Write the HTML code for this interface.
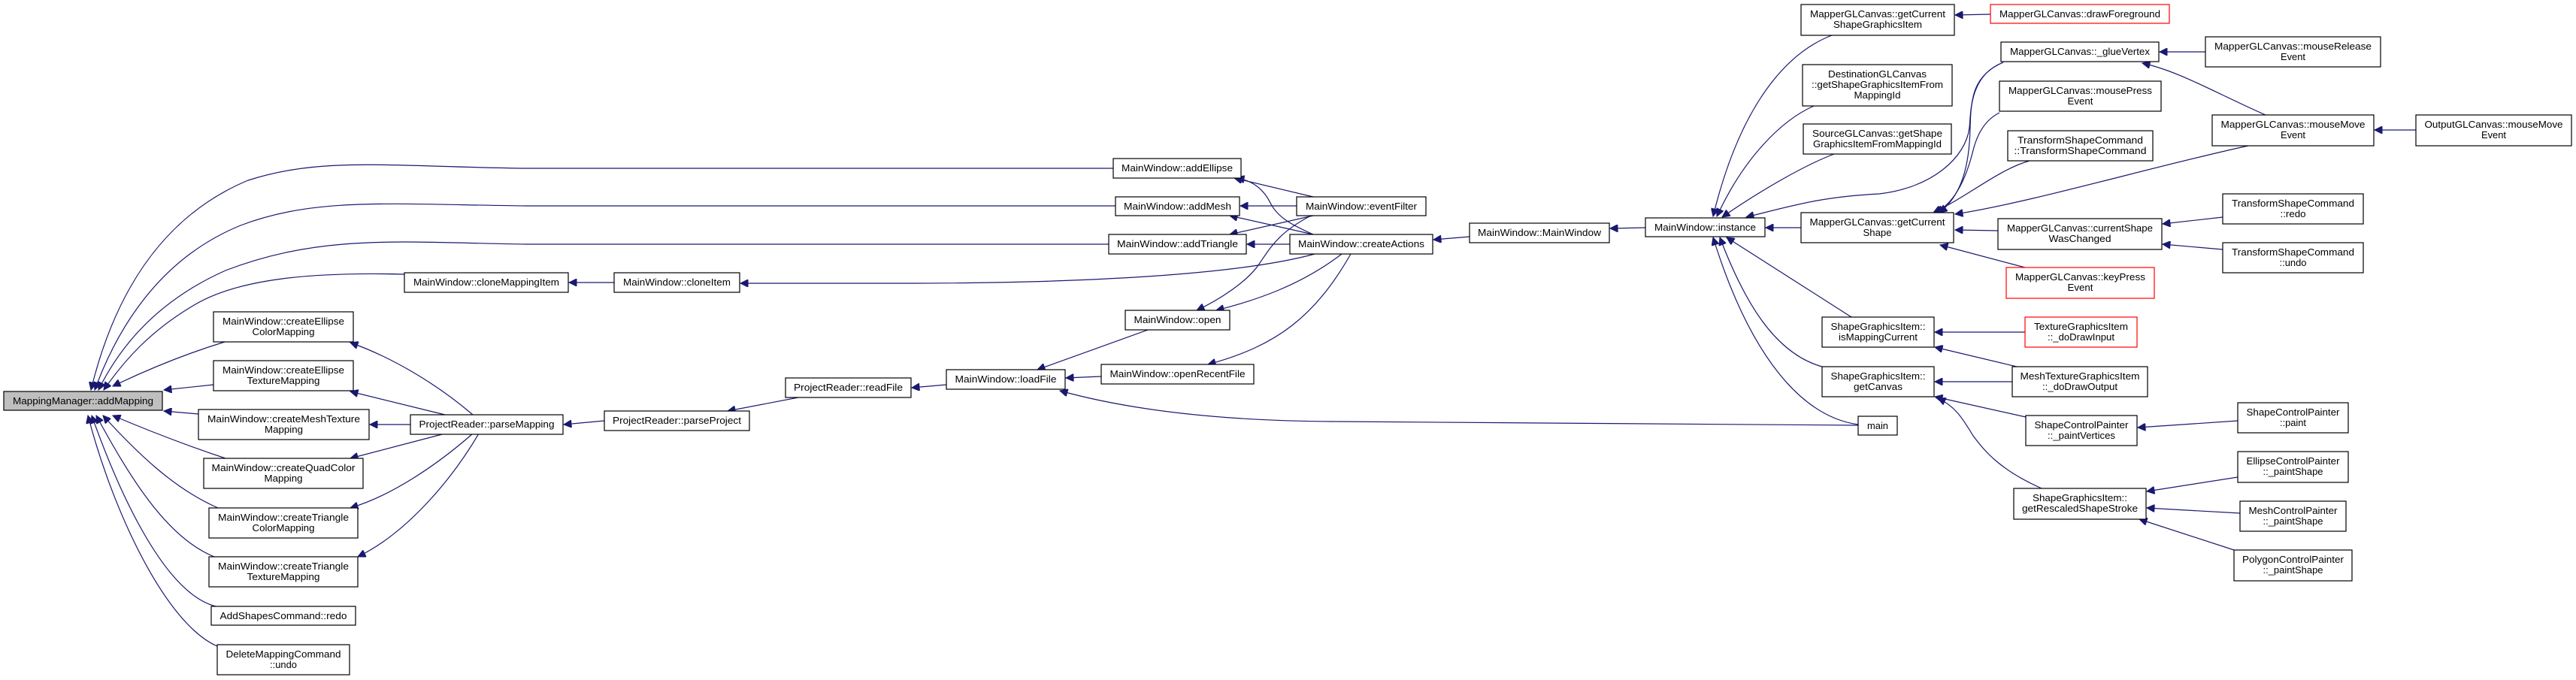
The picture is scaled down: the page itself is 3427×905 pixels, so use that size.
<!DOCTYPE html>
<html><head><meta charset="utf-8"><style>
html,body{margin:0;padding:0;background:#fff;}
svg{display:block;}
text{font-family:"Liberation Sans",sans-serif;font-size:13px;fill:#000;}
.e{fill:none;stroke:#191970;stroke-width:1.2;marker-end:url(#a);}
.n{fill:#fff;stroke:#000;stroke-width:1.2;}
.r{fill:#fff;stroke:#ff0000;stroke-width:1.2;}
</style></head><body>
<svg width="3427" height="905" viewBox="0 0 3427 905" xmlns="http://www.w3.org/2000/svg">
<defs><marker id="a" viewBox="0 0 10 10" refX="10" refY="5" markerWidth="13" markerHeight="10" markerUnits="userSpaceOnUse" orient="auto"><path d="M0,0 L10,5 L0,10 z" fill="#191970" stroke="#191970"/></marker></defs>
<g>
<path class="e" d="M1481,224 L700,224 C520,222 430,208 330,240 C210,290 150,400 121,519"/>
<path class="e" d="M1484,274 L700,274 C520,272 420,262 320,300 C210,345 155,440 126,519"/>
<path class="e" d="M1475,325 L700,325 C540,323 430,310 300,360 C210,400 160,460 131,519"/>
<path class="e" d="M538,365 C420,362 320,370 260,405 C200,440 165,480 138,519"/>
<path class="e" d="M299,455 C250,470 200,490 150,514"/>
<path class="e" d="M284,512 L218,519"/>
<path class="e" d="M264,551 L218,547"/>
<path class="e" d="M300,610 C240,590 190,570 150,553"/>
<path class="e" d="M290,676 C230,650 180,600 137,553"/>
<path class="e" d="M285,741 C220,715 170,630 128,553"/>
<path class="e" d="M287,807 C220,790 160,660 122,553"/>
<path class="e" d="M289,860 C220,830 150,680 117,553"/>
<path class="e" d="M817,376 L757,376"/>
<path class="e" d="M1749,338 C1650,365 1450,377 1200,377 L985,377"/>
<path class="e" d="M629,552 C580,510 520,475 466,456"/>
<path class="e" d="M592,552 L466,521"/>
<path class="e" d="M546,565 L492,565"/>
<path class="e" d="M592,577 L466,610"/>
<path class="e" d="M629,577 C580,620 520,660 466,676"/>
<path class="e" d="M637,577 C600,640 540,710 476,741"/>
<path class="e" d="M804,560 L750,565"/>
<path class="e" d="M1062,529 L968,547"/>
<path class="e" d="M1259,512 L1213,516"/>
<path class="e" d="M1527,439 L1380,492"/>
<path class="e" d="M1465,501 L1418,503"/>
<path class="e" d="M2472,566 L1773,561 C1620,560 1500,545 1410,520"/>
<path class="e" d="M1747,262 L1642,237"/>
<path class="e" d="M1747,312 C1720,300 1700,290 1690,270 C1680,250 1665,240 1645,237"/>
<path class="e" d="M1725,274 L1650,274"/>
<path class="e" d="M1747,312 L1636,287"/>
<path class="e" d="M1747,287 L1636,312"/>
<path class="e" d="M1716,325 L1659,325"/>
<path class="e" d="M1744,287 C1700,310 1690,330 1676,350 C1660,375 1620,400 1592,413"/>
<path class="e" d="M1785,338 C1730,380 1670,400 1618,413"/>
<path class="e" d="M1797,338 C1750,420 1700,460 1607,485"/>
<path class="e" d="M1955,315 L1907,319"/>
<path class="e" d="M2189,303 L2142,304"/>
<path class="e" d="M2437,47 C2390,65 2320,120 2279,288"/>
<path class="e" d="M2413,141 C2370,160 2320,210 2284,288"/>
<path class="e" d="M2440,205 C2400,220 2340,255 2291,289"/>
<path class="e" d="M2665,83 C2620,100 2622,150 2620,170 C2615,210 2570,250 2500,258 C2420,262 2380,275 2323,289"/>
<path class="e" d="M2396,303 L2349,303"/>
<path class="e" d="M2463,422 L2297,316"/>
<path class="e" d="M2424,488 C2360,470 2320,400 2288,316"/>
<path class="e" d="M2472,565 C2400,555 2330,480 2279,316"/>
<path class="e" d="M2648,19 L2601,20"/>
<path class="e" d="M2665,83 C2625,100 2622,130 2621,170 C2620,220 2610,260 2580,283"/>
<path class="e" d="M2660,150 C2640,160 2630,180 2625,200 C2615,240 2600,270 2575,283"/>
<path class="e" d="M2700,214 C2660,225 2620,260 2572,283"/>
<path class="e" d="M2991,194 C2870,220 2700,270 2601,285"/>
<path class="e" d="M2658,307 L2601,306"/>
<path class="e" d="M2694,356 L2581,326"/>
<path class="e" d="M2934,69 L2873,69"/>
<path class="e" d="M3014,153 C2950,125 2900,95 2850,84"/>
<path class="e" d="M3214,173 L3159,173"/>
<path class="e" d="M2957,289 L2877,298"/>
<path class="e" d="M2957,332 L2877,325"/>
<path class="e" d="M2694,442 L2574,442"/>
<path class="e" d="M2683,488 L2574,462"/>
<path class="e" d="M2677,508 L2574,508"/>
<path class="e" d="M2695,555 L2574,528"/>
<path class="e" d="M2716,650 C2660,625 2640,600 2625,580 C2610,555 2600,540 2578,530"/>
<path class="e" d="M2977,560 L2844,569"/>
<path class="e" d="M2977,635 L2856,654"/>
<path class="e" d="M2980,683 L2856,676"/>
<path class="e" d="M2972,732 L2846,691"/>
</g>
<g text-anchor="middle">
<rect x="5" y="521" width="211" height="25" fill="#bfbfbf" stroke="#000" stroke-width="1.2"/><text x="110.5" y="538" textLength="187" lengthAdjust="spacingAndGlyphs">MappingManager::addMapping</text>

<rect class="n" x="284" y="415" width="186" height="40"/><text x="377" y="432" textLength="162" lengthAdjust="spacingAndGlyphs">MainWindow::createEllipse</text><text x="377" y="446" textLength="83" lengthAdjust="spacingAndGlyphs">ColorMapping</text>
<rect class="n" x="284" y="480" width="186" height="40"/><text x="377" y="497" textLength="162" lengthAdjust="spacingAndGlyphs">MainWindow::createEllipse</text><text x="377" y="511" textLength="97" lengthAdjust="spacingAndGlyphs">TextureMapping</text>
<rect class="n" x="264" y="545" width="227" height="40"/><text x="377.5" y="562" textLength="203" lengthAdjust="spacingAndGlyphs">MainWindow::createMeshTexture</text><text x="377.5" y="576" textLength="51" lengthAdjust="spacingAndGlyphs">Mapping</text>
<rect class="n" x="271" y="610" width="212" height="40"/><text x="377" y="627" textLength="191" lengthAdjust="spacingAndGlyphs">MainWindow::createQuadColor</text><text x="377" y="641" textLength="51" lengthAdjust="spacingAndGlyphs">Mapping</text>
<rect class="n" x="278" y="676" width="198" height="40"/><text x="377" y="693" textLength="174" lengthAdjust="spacingAndGlyphs">MainWindow::createTriangle</text><text x="377" y="707" textLength="83" lengthAdjust="spacingAndGlyphs">ColorMapping</text>
<rect class="n" x="278" y="741" width="198" height="40"/><text x="377" y="758" textLength="174" lengthAdjust="spacingAndGlyphs">MainWindow::createTriangle</text><text x="377" y="772" textLength="97" lengthAdjust="spacingAndGlyphs">TextureMapping</text>
<rect class="n" x="281" y="807" width="192" height="25"/><text x="377" y="824" textLength="169" lengthAdjust="spacingAndGlyphs">AddShapesCommand::redo</text>
<rect class="n" x="289" y="858" width="176" height="40"/><text x="377" y="875" textLength="153" lengthAdjust="spacingAndGlyphs">DeleteMappingCommand</text><text x="377" y="889" textLength="36" lengthAdjust="spacingAndGlyphs">::undo</text>

<rect class="n" x="538" y="363" width="218" height="26"/><text x="647" y="380" textLength="194" lengthAdjust="spacingAndGlyphs">MainWindow::cloneMappingItem</text>
<rect class="n" x="546" y="552" width="203" height="26"/><text x="647.5" y="569" textLength="180" lengthAdjust="spacingAndGlyphs">ProjectReader::parseMapping</text>
<rect class="n" x="817" y="363" width="167" height="26"/><text x="900.5" y="380" textLength="143" lengthAdjust="spacingAndGlyphs">MainWindow::cloneItem</text>
<rect class="n" x="804" y="547" width="193" height="26"/><text x="900.5" y="564" textLength="171" lengthAdjust="spacingAndGlyphs">ProjectReader::parseProject</text>
<rect class="n" x="1045" y="503" width="167" height="26"/><text x="1128.5" y="520" textLength="145" lengthAdjust="spacingAndGlyphs">ProjectReader::readFile</text>
<rect class="n" x="1259" y="492" width="158" height="26"/><text x="1338" y="509" textLength="135" lengthAdjust="spacingAndGlyphs">MainWindow::loadFile</text>
<rect class="n" x="1481" y="211" width="170" height="26"/><text x="1566" y="228" textLength="148" lengthAdjust="spacingAndGlyphs">MainWindow::addEllipse</text>
<rect class="n" x="1484" y="262" width="165" height="25"/><text x="1566.5" y="279" textLength="143" lengthAdjust="spacingAndGlyphs">MainWindow::addMesh</text>
<rect class="n" x="1475" y="312" width="183" height="26"/><text x="1566.5" y="329" textLength="161" lengthAdjust="spacingAndGlyphs">MainWindow::addTriangle</text>
<rect class="n" x="1725" y="262" width="172" height="25"/><text x="1811" y="279" textLength="148" lengthAdjust="spacingAndGlyphs">MainWindow::eventFilter</text>
<rect class="n" x="1716" y="312" width="190" height="26"/><text x="1811" y="329" textLength="168" lengthAdjust="spacingAndGlyphs">MainWindow::createActions</text>
<rect class="n" x="1955" y="297" width="186" height="26"/><text x="2048" y="314" textLength="164" lengthAdjust="spacingAndGlyphs">MainWindow::MainWindow</text>
<rect class="n" x="1497" y="413" width="139" height="26"/><text x="1566.5" y="430" textLength="116" lengthAdjust="spacingAndGlyphs">MainWindow::open</text>
<rect class="n" x="1465" y="485" width="203" height="26"/><text x="1566.5" y="502" textLength="180" lengthAdjust="spacingAndGlyphs">MainWindow::openRecentFile</text>
<rect class="n" x="2189" y="290" width="159" height="25"/><text x="2268.5" y="307" textLength="135" lengthAdjust="spacingAndGlyphs">MainWindow::instance</text>

<rect class="n" x="2396" y="6" width="204" height="41"/><text x="2498" y="23" textLength="180" lengthAdjust="spacingAndGlyphs">MapperGLCanvas::getCurrent</text><text x="2498" y="37" textLength="118" lengthAdjust="spacingAndGlyphs">ShapeGraphicsItem</text>
<rect class="n" x="2398" y="86" width="199" height="55"/><text x="2497.5" y="103" textLength="131" lengthAdjust="spacingAndGlyphs">DestinationGLCanvas</text><text x="2497.5" y="117" textLength="175" lengthAdjust="spacingAndGlyphs">::getShapeGraphicsItemFrom</text><text x="2497.5" y="131" textLength="62" lengthAdjust="spacingAndGlyphs">MappingId</text>
<rect class="n" x="2399" y="165" width="197" height="40"/><text x="2497.5" y="182" textLength="173" lengthAdjust="spacingAndGlyphs">SourceGLCanvas::getShape</text><text x="2497.5" y="196" textLength="171" lengthAdjust="spacingAndGlyphs">GraphicsItemFromMappingId</text>
<rect class="n" x="2396" y="283" width="203" height="40"/><text x="2497.5" y="300" textLength="180" lengthAdjust="spacingAndGlyphs">MapperGLCanvas::getCurrent</text><text x="2497.5" y="314" textLength="38" lengthAdjust="spacingAndGlyphs">Shape</text>
<rect class="r" x="2648" y="6" width="238" height="25"/><text x="2767" y="23" textLength="214" lengthAdjust="spacingAndGlyphs">MapperGLCanvas::drawForeground</text>
<rect class="n" x="2662" y="56" width="210" height="26"/><text x="2767" y="73" textLength="186" lengthAdjust="spacingAndGlyphs">MapperGLCanvas::_glueVertex</text>
<rect class="n" x="2660" y="108" width="215" height="40"/><text x="2767.5" y="125" textLength="191" lengthAdjust="spacingAndGlyphs">MapperGLCanvas::mousePress</text><text x="2767.5" y="139" textLength="34" lengthAdjust="spacingAndGlyphs">Event</text>
<rect class="n" x="2671" y="174" width="193" height="40"/><text x="2767.5" y="191" textLength="167" lengthAdjust="spacingAndGlyphs">TransformShapeCommand</text><text x="2767.5" y="205" textLength="176" lengthAdjust="spacingAndGlyphs">::TransformShapeCommand</text>
<rect class="n" x="2658" y="291" width="218" height="41"/><text x="2767" y="308" textLength="194" lengthAdjust="spacingAndGlyphs">MapperGLCanvas::currentShape</text><text x="2767" y="322" textLength="83" lengthAdjust="spacingAndGlyphs">WasChanged</text>
<rect class="r" x="2669" y="356" width="197" height="41"/><text x="2767.5" y="373" textLength="173" lengthAdjust="spacingAndGlyphs">MapperGLCanvas::keyPress</text><text x="2767.5" y="387" textLength="34" lengthAdjust="spacingAndGlyphs">Event</text>
<rect class="n" x="2424" y="422" width="149" height="40"/><text x="2498.5" y="439" textLength="126" lengthAdjust="spacingAndGlyphs">ShapeGraphicsItem::</text><text x="2498.5" y="453" textLength="105" lengthAdjust="spacingAndGlyphs">isMappingCurrent</text>
<rect class="r" x="2694" y="422" width="149" height="40"/><text x="2768.5" y="439" textLength="125" lengthAdjust="spacingAndGlyphs">TextureGraphicsItem</text><text x="2768.5" y="453" textLength="89" lengthAdjust="spacingAndGlyphs">::_doDrawInput</text>
<rect class="n" x="2424" y="488" width="149" height="40"/><text x="2498.5" y="505" textLength="126" lengthAdjust="spacingAndGlyphs">ShapeGraphicsItem::</text><text x="2498.5" y="519" textLength="65" lengthAdjust="spacingAndGlyphs">getCanvas</text>
<rect class="n" x="2677" y="488" width="180" height="40"/><text x="2767" y="505" textLength="159" lengthAdjust="spacingAndGlyphs">MeshTextureGraphicsItem</text><text x="2767" y="519" textLength="100" lengthAdjust="spacingAndGlyphs">::_doDrawOutput</text>
<rect class="n" x="2472" y="554" width="52" height="25"/><text x="2498" y="571" textLength="28" lengthAdjust="spacingAndGlyphs">main</text>
<rect class="n" x="2695" y="553" width="148" height="40"/><text x="2769" y="570" textLength="125" lengthAdjust="spacingAndGlyphs">ShapeControlPainter</text><text x="2769" y="584" textLength="90" lengthAdjust="spacingAndGlyphs">::_paintVertices</text>
<rect class="n" x="2679" y="650" width="176" height="41"/><text x="2767" y="667" textLength="126" lengthAdjust="spacingAndGlyphs">ShapeGraphicsItem::</text><text x="2767" y="681" textLength="154" lengthAdjust="spacingAndGlyphs">getRescaledShapeStroke</text>
<rect class="n" x="2934" y="49" width="233" height="40"/><text x="3050.5" y="66" textLength="209" lengthAdjust="spacingAndGlyphs">MapperGLCanvas::mouseRelease</text><text x="3050.5" y="80" textLength="33" lengthAdjust="spacingAndGlyphs">Event</text>
<rect class="n" x="2943" y="153" width="215" height="41"/><text x="3050.5" y="170" textLength="192" lengthAdjust="spacingAndGlyphs">MapperGLCanvas::mouseMove</text><text x="3050.5" y="184" textLength="33" lengthAdjust="spacingAndGlyphs">Event</text>
<rect class="n" x="3214" y="153" width="207" height="41"/><text x="3317.5" y="170" textLength="184" lengthAdjust="spacingAndGlyphs">OutputGLCanvas::mouseMove</text><text x="3317.5" y="184" textLength="33" lengthAdjust="spacingAndGlyphs">Event</text>
<rect class="n" x="2957" y="258" width="187" height="40"/><text x="3050.5" y="275" textLength="163" lengthAdjust="spacingAndGlyphs">TransformShapeCommand</text><text x="3050.5" y="289" textLength="34" lengthAdjust="spacingAndGlyphs">::redo</text>
<rect class="n" x="2957" y="323" width="187" height="40"/><text x="3050.5" y="340" textLength="163" lengthAdjust="spacingAndGlyphs">TransformShapeCommand</text><text x="3050.5" y="354" textLength="36" lengthAdjust="spacingAndGlyphs">::undo</text>
<rect class="n" x="2977" y="536" width="147" height="40"/><text x="3050.5" y="553" textLength="124" lengthAdjust="spacingAndGlyphs">ShapeControlPainter</text><text x="3050.5" y="567" textLength="35" lengthAdjust="spacingAndGlyphs">::paint</text>
<rect class="n" x="2977" y="601" width="147" height="41"/><text x="3050.5" y="618" textLength="124" lengthAdjust="spacingAndGlyphs">EllipseControlPainter</text><text x="3050.5" y="632" textLength="80" lengthAdjust="spacingAndGlyphs">::_paintShape</text>
<rect class="n" x="2980" y="667" width="141" height="40"/><text x="3050.5" y="684" textLength="118" lengthAdjust="spacingAndGlyphs">MeshControlPainter</text><text x="3050.5" y="698" textLength="80" lengthAdjust="spacingAndGlyphs">::_paintShape</text>
<rect class="n" x="2972" y="732" width="157" height="41"/><text x="3050.5" y="749" textLength="135" lengthAdjust="spacingAndGlyphs">PolygonControlPainter</text><text x="3050.5" y="763" textLength="80" lengthAdjust="spacingAndGlyphs">::_paintShape</text>
</g>
</svg>
</body></html>
